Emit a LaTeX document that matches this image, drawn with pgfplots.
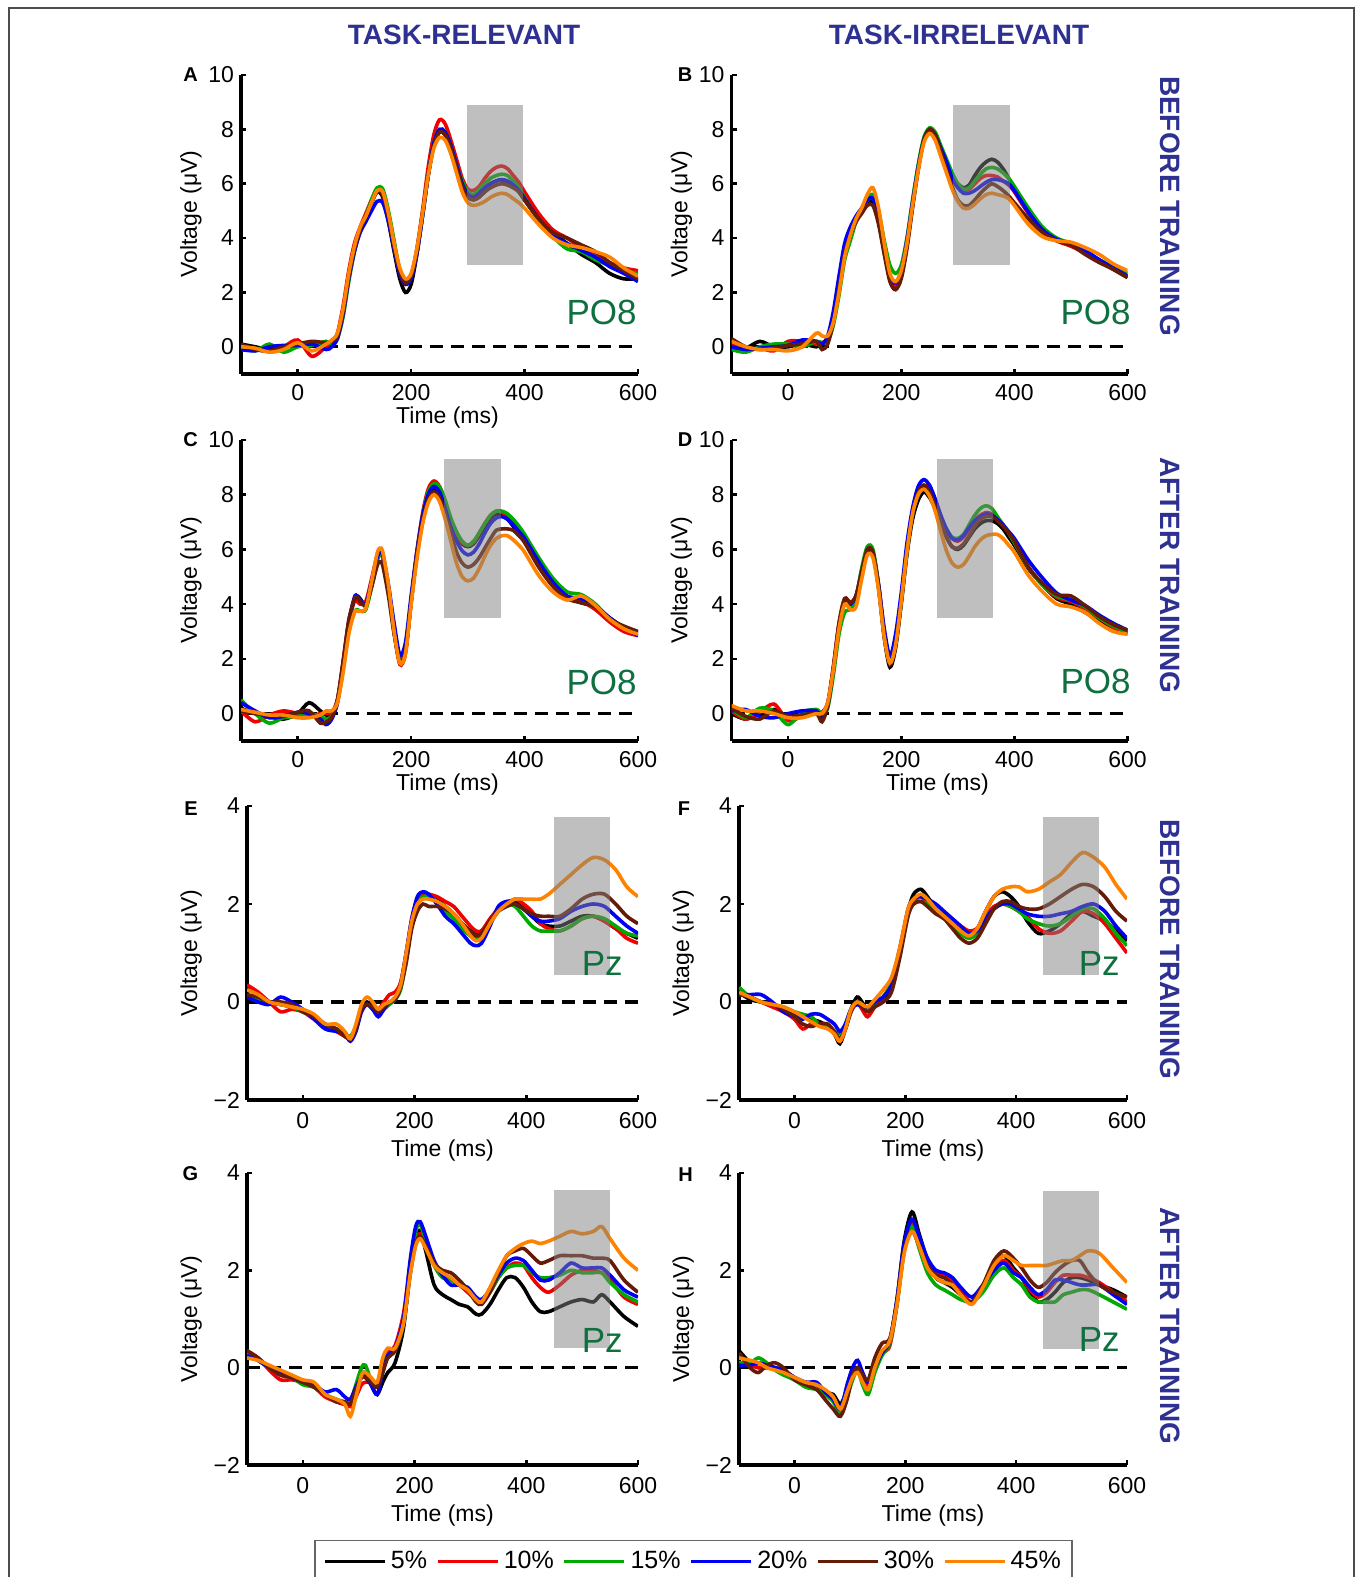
\documentclass[border=0pt]{standalone}
\usepackage{pgfplots}
\pgfplotsset{compat=1.18}
\usepackage{pgfplotstable}
\usepackage{fontspec}
\setmainfont{Liberation Sans}

\definecolor{cK}{RGB}{0,0,0}
\definecolor{cR}{RGB}{240,0,0}
\definecolor{cG}{RGB}{0,170,0}
\definecolor{cB}{RGB}{0,0,245}
\definecolor{cN}{RGB}{100,28,8}
\definecolor{cO}{RGB}{255,130,0}
\definecolor{ttl}{RGB}{46,49,146}
\definecolor{chg}{RGB}{14,112,62}

% columns: t, k=5%, r=10%, g=15%, b=20%, n=30%, o=45%
\pgfplotstableread{
t k r g b n o
-100 0.1 0.0 0.05 -0.1 0.1 0.0
-75 0.0 -0.1 -0.15 -0.15 -0.1 -0.05
-50 -0.1 -0.15 0.1 0.0 -0.15 -0.2
-25 0.0 0.0 -0.2 0.05 0.0 -0.1
0 0.05 0.25 0.0 0.05 0.1 0.15
25 0.1 -0.35 0.05 0.1 0.2 -0.15
50 0.0 0.0 0.2 -0.1 0.15 0.1
60 0.1 0.1 0.1 0.0 0.2 0.25
70 0.4 0.5 0.3 0.3 0.4 0.5
80 1.3 1.5 1.1 1.2 1.3 1.4
90 2.6 2.8 2.4 2.5 2.6 2.7
100 3.6 3.8 3.5 3.5 3.6 3.7
110 4.3 4.4 4.3 4.2 4.3 4.4
120 4.8 4.9 4.8 4.6 4.8 4.8
130 5.3 5.4 5.4 5.0 5.3 5.3
140 5.7 5.8 5.85 5.35 5.7 5.75
150 5.5 5.6 5.8 5.3 5.6 5.7
160 4.6 4.8 5.0 4.6 4.8 4.9
170 3.5 3.7 3.9 3.6 3.7 3.8
180 2.5 2.7 2.8 2.7 2.8 2.9
190 2.0 2.3 2.35 2.3 2.35 2.5
200 2.3 2.6 2.6 2.5 2.6 2.7
210 3.4 3.6 3.5 3.4 3.5 3.6
220 4.8 5.0 4.8 4.8 4.9 4.9
230 6.3 6.6 6.3 6.3 6.3 6.3
240 7.4 7.8 7.5 7.5 7.4 7.3
250 7.9 8.35 8.0 8.0 7.9 7.7
260 7.8 8.2 7.9 7.9 7.8 7.6
270 7.3 7.6 7.4 7.4 7.3 7.1
280 6.7 6.9 6.7 6.7 6.6 6.4
290 6.0 6.2 6.1 6.0 5.9 5.7
300 5.6 5.8 5.7 5.6 5.5 5.3
310 5.5 5.75 5.6 5.5 5.4 5.2
320 5.6 5.9 5.8 5.65 5.5 5.25
330 5.8 6.2 6.0 5.85 5.7 5.35
340 6.0 6.45 6.2 6.0 5.85 5.5
350 6.1 6.6 6.3 6.1 5.95 5.6
360 6.15 6.65 6.35 6.15 6.0 5.65
370 6.05 6.55 6.3 6.1 5.95 5.6
380 5.9 6.3 6.1 5.95 5.85 5.45
390 5.7 6.05 5.85 5.75 5.7 5.3
400 5.4 5.7 5.5 5.45 5.4 5.1
425 4.7 4.9 4.65 4.7 4.7 4.5
450 4.2 4.3 4.05 4.1 4.2 4.0
475 3.8 4.0 3.6 3.8 4.0 3.75
500 3.4 3.65 3.5 3.55 3.75 3.65
525 3.1 3.45 3.2 3.3 3.5 3.5
550 2.7 3.1 3.0 2.95 3.1 3.3
575 2.5 2.9 2.8 2.7 2.8 2.9
600 2.5 2.8 2.7 2.4 2.5 2.6
}\tA

\pgfplotstableread{
t k r g b n o
-100 0.0 0.1 -0.1 0.0 0.3 0.2
-75 -0.05 -0.1 -0.2 -0.1 0.0 0.0
-50 0.2 -0.05 0.0 -0.05 -0.1 -0.1
-25 0.0 -0.15 0.1 0.0 -0.05 -0.1
0 0.0 0.2 0.1 0.05 0.05 -0.15
25 0.1 0.2 0.0 0.25 0.1 0.0
50 0.0 0.1 0.2 0.2 0.2 0.5
60 0.1 0.15 0.15 0.1 -0.1 0.4
70 0.3 0.3 0.2 0.4 0.1 0.4
80 1.0 1.0 0.8 1.3 0.9 0.9
90 2.2 2.2 1.9 2.6 2.1 2.0
100 3.5 3.4 3.2 3.8 3.4 3.3
110 4.2 4.1 3.9 4.4 4.1 4.1
120 4.7 4.6 4.6 4.8 4.6 4.7
130 5.0 5.0 5.0 5.1 4.9 5.1
140 5.3 5.4 5.4 5.4 5.2 5.6
150 5.3 5.5 5.6 5.45 5.2 5.85
160 4.6 4.8 5.0 4.8 4.5 5.1
170 3.5 3.6 3.9 3.6 3.4 3.8
180 2.5 2.6 3.0 2.6 2.4 2.7
190 2.2 2.25 2.7 2.35 2.1 2.4
200 2.6 2.7 3.0 2.8 2.5 2.8
210 3.7 3.8 4.0 3.9 3.6 3.8
220 5.2 5.3 5.4 5.3 5.1 5.2
230 6.6 6.6 6.7 6.6 6.5 6.5
240 7.6 7.6 7.7 7.6 7.6 7.5
250 8.0 8.0 8.05 8.0 8.0 7.85
260 7.8 7.8 7.9 7.8 7.8 7.6
270 7.3 7.3 7.4 7.3 7.2 7.0
280 6.8 6.8 6.9 6.8 6.5 6.4
290 6.3 6.3 6.4 6.2 5.9 5.8
300 6.0 5.9 6.0 5.85 5.4 5.35
310 5.85 5.75 5.8 5.65 5.2 5.1
320 5.95 5.8 5.85 5.65 5.2 5.1
330 6.3 6.0 6.1 5.75 5.4 5.25
340 6.6 6.2 6.35 5.9 5.65 5.45
350 6.8 6.3 6.55 6.05 5.85 5.6
360 6.9 6.3 6.6 6.15 6.0 5.65
370 6.8 6.25 6.55 6.15 5.9 5.6
380 6.55 6.1 6.4 6.1 5.75 5.55
390 6.2 5.95 6.2 6.0 5.55 5.45
400 5.85 5.7 5.9 5.75 5.3 5.2
425 5.0 4.9 5.1 4.95 4.7 4.5
450 4.3 4.3 4.4 4.3 4.2 4.05
475 3.95 3.9 4.0 3.95 3.9 3.9
500 3.8 3.7 3.8 3.8 3.75 3.85
525 3.5 3.45 3.5 3.55 3.4 3.65
550 3.2 3.15 3.2 3.2 3.1 3.4
575 2.85 2.85 2.95 2.9 2.85 3.05
600 2.55 2.6 2.7 2.6 2.55 2.8
}\tB

\pgfplotstableread{
t k r g b n o
-100 0.2 0.1 0.5 0.4 0.1 0.15
-75 0.0 -0.3 0.0 0.1 0.0 0.05
-50 -0.1 -0.05 -0.35 -0.15 -0.05 -0.05
-25 -0.2 0.1 -0.15 -0.1 -0.1 -0.05
0 0.0 0.0 -0.1 0.05 0.05 -0.15
20 0.4 -0.1 0.0 0.0 0.1 -0.15
40 0.1 0.0 -0.1 -0.2 -0.35 -0.05
50 -0.05 0.0 -0.2 -0.4 -0.3 0.1
60 0.0 0.05 -0.1 -0.2 -0.15 0.1
70 0.5 0.5 0.4 0.4 0.5 0.4
80 1.8 1.9 1.6 1.8 1.9 1.5
90 3.3 3.4 3.0 3.3 3.4 2.9
100 4.2 4.1 3.7 4.25 4.2 3.7
105 4.3 4.1 3.8 4.3 4.25 3.75
110 4.2 4.0 3.75 4.15 4.1 3.75
120 4.0 4.1 3.8 4.0 3.95 3.85
130 4.7 4.9 4.6 4.8 4.6 4.8
140 5.6 5.8 5.6 5.7 5.4 5.85
145 5.85 6.0 5.85 5.9 5.55 6.05
150 5.7 5.85 5.7 5.8 5.4 5.9
160 4.5 4.6 4.5 4.7 4.3 4.7
170 3.0 3.0 3.0 3.3 2.9 3.0
180 1.95 1.8 1.9 2.15 1.9 1.85
190 2.3 2.2 2.3 2.6 2.3 2.2
200 4.1 4.1 4.1 4.3 4.1 4.0
210 5.8 5.9 5.8 5.9 5.8 5.6
220 7.1 7.3 7.2 7.2 7.0 6.9
230 7.9 8.2 8.1 8.0 7.8 7.7
240 8.2 8.5 8.4 8.3 8.1 8.0
250 8.0 8.3 8.3 8.1 7.9 7.75
260 7.5 7.7 7.8 7.5 7.3 7.1
270 6.95 7.05 7.15 6.8 6.6 6.3
280 6.5 6.6 6.65 6.3 5.9 5.5
290 6.2 6.25 6.3 5.95 5.5 5.0
300 6.1 6.15 6.15 5.8 5.35 4.85
310 6.2 6.25 6.3 5.9 5.45 4.95
320 6.5 6.6 6.6 6.2 5.7 5.3
330 6.85 6.95 6.95 6.6 6.05 5.75
340 7.15 7.25 7.25 6.95 6.4 6.15
350 7.3 7.4 7.4 7.15 6.7 6.4
360 7.25 7.35 7.4 7.2 6.75 6.5
370 7.1 7.2 7.3 7.1 6.75 6.5
380 6.85 6.95 7.1 6.9 6.7 6.35
390 6.6 6.7 6.85 6.65 6.5 6.15
400 6.3 6.4 6.55 6.4 6.25 5.9
425 5.4 5.5 5.7 5.55 5.35 5.05
450 4.7 4.75 4.95 4.8 4.65 4.45
475 4.25 4.25 4.45 4.3 4.2 4.15
500 4.05 4.1 4.35 4.2 4.05 4.3
525 3.9 3.8 4.0 3.95 3.9 3.95
550 3.5 3.35 3.45 3.5 3.45 3.45
575 3.15 3.0 3.15 3.15 3.2 3.1
600 2.95 2.85 3.0 2.85 3.0 2.9
}\tC

\pgfplotstableread{
t k r g b n o
-100 0.0 0.1 0.2 0.1 0.2 0.3
-75 -0.2 -0.2 -0.15 0.15 -0.1 0.1
-50 0.0 0.05 0.2 -0.1 -0.2 0.1
-25 0.15 0.35 0.1 -0.15 0.1 0.0
0 -0.1 -0.25 -0.4 0.0 -0.1 -0.15
25 0.1 -0.1 0.05 0.1 -0.05 -0.15
50 0.0 0.0 0.15 0.1 0.0 0.0
60 -0.1 0.05 0.0 -0.15 -0.3 0.0
70 0.3 0.4 0.2 0.3 0.3 0.4
80 1.6 1.7 1.4 1.6 1.7 1.6
90 3.2 3.3 2.9 3.2 3.3 3.1
100 4.15 4.2 3.7 4.1 4.2 4.0
110 4.05 4.05 3.8 4.0 4.05 3.8
120 4.2 4.3 4.2 4.3 4.3 3.9
130 5.1 5.2 5.3 5.1 5.2 4.9
140 5.95 6.0 6.1 5.9 6.0 5.8
150 5.8 5.9 6.0 5.8 5.9 5.7
160 4.6 4.7 4.7 4.7 4.6 4.5
170 2.8 3.0 2.9 3.1 2.8 2.8
180 1.7 1.95 1.95 2.1 1.8 1.85
190 2.4 2.7 2.6 2.9 2.5 2.5
200 4.0 4.2 4.1 4.4 4.1 4.1
210 5.8 6.0 5.9 6.2 5.9 5.9
220 7.1 7.4 7.3 7.5 7.3 7.3
230 7.8 8.1 8.0 8.3 8.1 8.0
240 8.1 8.35 8.3 8.55 8.35 8.2
250 7.9 8.2 8.15 8.35 8.1 7.95
260 7.5 7.75 7.7 7.85 7.6 7.4
270 6.95 7.15 7.15 7.25 7.0 6.65
280 6.45 6.7 6.75 6.75 6.45 5.95
290 6.1 6.4 6.45 6.4 6.1 5.5
300 6.0 6.3 6.4 6.35 6.05 5.35
310 6.15 6.45 6.55 6.5 6.2 5.45
320 6.45 6.75 6.9 6.8 6.5 5.75
330 6.75 7.05 7.25 7.05 6.85 6.1
340 6.95 7.25 7.5 7.2 7.1 6.35
350 7.05 7.35 7.6 7.3 7.2 6.5
360 7.05 7.3 7.5 7.25 7.2 6.55
370 6.95 7.15 7.2 7.1 7.05 6.55
380 6.75 6.9 6.9 6.9 6.85 6.4
390 6.45 6.6 6.6 6.65 6.6 6.15
400 6.15 6.25 6.25 6.4 6.3 5.9
425 5.3 5.35 5.35 5.6 5.35 5.05
450 4.7 4.7 4.7 4.95 4.75 4.45
475 4.2 4.25 4.3 4.4 4.35 4.0
500 4.0 4.1 4.15 4.15 4.3 3.9
525 3.7 3.85 3.9 3.95 3.95 3.7
550 3.4 3.5 3.5 3.6 3.55 3.3
575 3.15 3.15 3.2 3.3 3.25 3.0
600 2.95 2.9 3.0 3.05 3.05 2.9
}\tD

\pgfplotstableread{
t k r g b n o
-100 0.3 0.35 0.1 0.1 0.15 0.25
-80 0.15 0.2 0.05 0.0 0.1 0.15
-60 0.0 0.0 0.0 -0.05 0.0 0.0
-40 -0.05 -0.2 -0.05 0.1 0.0 -0.05
-20 -0.1 -0.15 -0.1 0.0 -0.05 -0.1
0 -0.2 -0.2 -0.2 -0.15 -0.2 -0.15
20 -0.3 -0.35 -0.3 -0.35 -0.3 -0.25
40 -0.5 -0.45 -0.45 -0.55 -0.45 -0.45
60 -0.55 -0.6 -0.55 -0.6 -0.55 -0.45
75 -0.65 -0.7 -0.65 -0.65 -0.7 -0.6
85 -0.75 -0.75 -0.7 -0.8 -0.75 -0.75
95 -0.5 -0.55 -0.5 -0.6 -0.55 -0.45
105 -0.1 -0.15 -0.15 -0.2 -0.15 -0.05
115 0.0 -0.05 -0.05 -0.05 -0.05 0.1
125 -0.1 -0.1 -0.15 -0.15 -0.1 0.0
135 -0.2 -0.15 -0.25 -0.3 -0.2 -0.15
145 -0.1 0.0 -0.15 -0.15 -0.1 -0.05
155 0.0 0.15 -0.05 0.0 0.0 0.0
165 0.05 0.2 0.05 0.05 0.05 0.1
175 0.3 0.4 0.25 0.35 0.3 0.35
185 0.9 1.0 0.85 1.0 0.8 1.0
195 1.6 1.7 1.6 1.7 1.5 1.65
205 2.05 2.1 2.0 2.15 1.85 2.0
215 2.2 2.2 2.15 2.25 2.0 2.1
225 2.2 2.2 2.15 2.2 1.95 2.1
240 2.1 2.15 2.05 2.0 1.95 2.05
255 1.95 2.05 1.85 1.75 1.9 1.95
270 1.8 1.95 1.7 1.6 1.8 1.8
285 1.6 1.75 1.5 1.4 1.6 1.6
300 1.45 1.55 1.35 1.2 1.45 1.35
310 1.4 1.45 1.3 1.15 1.35 1.25
320 1.45 1.45 1.35 1.2 1.4 1.3
335 1.65 1.7 1.6 1.55 1.65 1.6
350 1.9 1.9 1.85 1.95 1.85 1.85
365 2.05 2.0 2.0 2.05 1.95 2.0
380 2.05 2.1 1.95 2.0 2.0 2.1
395 1.9 2.0 1.75 1.9 1.9 2.1
410 1.75 1.85 1.55 1.75 1.8 2.1
425 1.6 1.6 1.45 1.65 1.75 2.1
440 1.55 1.5 1.45 1.65 1.75 2.2
460 1.55 1.45 1.45 1.7 1.75 2.4
480 1.65 1.55 1.55 1.85 1.9 2.6
500 1.75 1.7 1.7 1.95 2.1 2.8
520 1.75 1.75 1.75 2.0 2.2 2.95
540 1.65 1.65 1.7 1.95 2.2 2.9
560 1.5 1.5 1.55 1.75 2.0 2.7
580 1.4 1.3 1.4 1.55 1.75 2.35
600 1.3 1.2 1.35 1.4 1.6 2.15
}\tE

\pgfplotstableread{
t k r g b n o
-100 0.2 0.2 0.3 0.15 0.15 0.2
-80 0.05 0.1 0.1 0.15 0.1 0.1
-60 0.0 0.0 0.0 0.15 0.0 0.0
-40 -0.05 -0.1 -0.05 0.0 -0.05 -0.05
-20 -0.15 -0.2 -0.1 -0.2 -0.15 -0.1
0 -0.25 -0.35 -0.2 -0.3 -0.3 -0.2
15 -0.3 -0.55 -0.25 -0.35 -0.45 -0.3
30 -0.35 -0.45 -0.3 -0.25 -0.5 -0.4
45 -0.4 -0.45 -0.45 -0.25 -0.45 -0.5
60 -0.5 -0.5 -0.5 -0.35 -0.45 -0.55
72 -0.65 -0.65 -0.6 -0.45 -0.6 -0.65
82 -0.85 -0.8 -0.65 -0.6 -0.75 -0.8
92 -0.55 -0.55 -0.45 -0.45 -0.55 -0.55
102 -0.15 -0.2 -0.15 -0.15 -0.2 -0.15
113 0.1 0.0 0.0 -0.05 0.0 0.0
122 0.0 -0.15 -0.05 -0.1 -0.1 -0.05
132 -0.15 -0.3 -0.15 -0.1 -0.2 -0.1
145 -0.05 -0.1 0.0 0.0 -0.1 0.05
160 0.05 0.1 0.1 0.1 0.0 0.25
175 0.35 0.4 0.4 0.35 0.2 0.5
190 1.0 1.1 1.05 1.05 0.9 1.1
205 1.85 1.9 1.8 1.85 1.75 1.9
215 2.2 2.1 2.05 2.1 2.0 2.1
228 2.3 2.15 2.05 2.15 2.05 2.2
240 2.15 2.0 2.0 2.1 1.95 2.1
255 1.9 1.85 1.9 2.0 1.8 1.9
270 1.75 1.7 1.75 1.85 1.7 1.75
285 1.6 1.65 1.6 1.7 1.5 1.6
300 1.45 1.55 1.4 1.55 1.3 1.45
315 1.35 1.45 1.3 1.4 1.2 1.35
330 1.5 1.5 1.4 1.45 1.3 1.5
345 1.85 1.75 1.7 1.7 1.6 1.85
360 2.15 1.95 1.9 1.9 1.9 2.15
375 2.25 2.0 2.0 2.0 2.05 2.3
390 2.15 1.95 1.95 2.0 2.05 2.35
405 1.95 1.85 1.85 1.9 1.95 2.35
420 1.65 1.75 1.7 1.8 1.9 2.25
440 1.4 1.5 1.6 1.75 1.9 2.3
460 1.45 1.4 1.55 1.75 2.0 2.45
480 1.6 1.45 1.6 1.8 2.15 2.6
500 1.8 1.65 1.75 1.85 2.3 2.85
520 1.85 1.85 1.9 1.95 2.4 3.05
540 1.75 1.8 1.9 2.0 2.35 2.95
560 1.65 1.6 1.7 1.85 2.15 2.75
580 1.45 1.3 1.4 1.55 1.85 2.4
600 1.25 1.0 1.15 1.3 1.65 2.1
}\tF

\pgfplotstableread{
t k r g b n o
-100 0.3 0.35 0.3 0.25 0.35 0.2
-80 0.15 0.2 0.15 0.15 0.2 0.15
-60 0.0 -0.05 0.0 0.0 0.0 0.05
-40 -0.15 -0.25 -0.15 -0.1 -0.15 -0.05
-20 -0.2 -0.25 -0.2 -0.2 -0.2 -0.15
0 -0.3 -0.3 -0.35 -0.3 -0.3 -0.25
20 -0.35 -0.4 -0.4 -0.35 -0.4 -0.3
40 -0.55 -0.6 -0.55 -0.5 -0.55 -0.55
60 -0.7 -0.7 -0.65 -0.45 -0.7 -0.65
75 -0.75 -0.75 -0.7 -0.6 -0.7 -0.75
85 -0.75 -0.8 -0.7 -0.65 -0.75 -1.0
95 -0.45 -0.6 -0.35 -0.4 -0.45 -0.6
105 -0.15 -0.35 0.0 -0.2 -0.2 -0.15
112 -0.1 -0.3 0.05 -0.2 -0.2 -0.1
122 -0.35 -0.3 -0.25 -0.35 -0.3 -0.2
133 -0.55 -0.35 -0.35 -0.55 -0.4 -0.3
143 -0.3 0.1 0.0 -0.1 -0.1 0.2
152 -0.1 0.35 0.25 0.25 0.2 0.4
165 0.1 0.45 0.35 0.4 0.35 0.4
180 0.8 1.1 0.9 1.0 0.9 0.9
192 2.0 2.1 2.0 2.2 1.9 1.9
202 2.7 2.65 2.8 2.9 2.55 2.5
210 2.8 2.75 2.95 3.0 2.7 2.65
220 2.4 2.55 2.6 2.7 2.5 2.45
235 1.7 2.15 2.1 2.2 2.15 2.1
250 1.5 1.95 1.85 1.9 2.0 1.95
265 1.4 1.8 1.8 1.7 1.95 1.85
280 1.3 1.7 1.7 1.7 1.8 1.7
295 1.25 1.55 1.6 1.65 1.6 1.6
310 1.1 1.4 1.4 1.45 1.35 1.4
320 1.1 1.35 1.4 1.4 1.3 1.35
335 1.3 1.55 1.55 1.6 1.55 1.65
350 1.6 1.85 1.85 1.9 1.95 2.0
365 1.85 2.05 2.05 2.15 2.3 2.3
380 1.85 2.15 2.1 2.25 2.4 2.45
395 1.65 2.1 2.1 2.2 2.45 2.55
410 1.35 1.85 1.95 2.0 2.3 2.6
425 1.15 1.65 1.85 1.8 2.15 2.55
440 1.15 1.55 1.85 1.8 2.2 2.6
460 1.25 1.7 1.9 1.95 2.3 2.7
480 1.35 1.9 2.0 2.15 2.3 2.8
500 1.4 2.0 1.95 2.05 2.3 2.75
520 1.35 2.0 1.95 2.05 2.25 2.8
535 1.5 1.95 1.95 2.05 2.25 2.9
550 1.35 1.8 1.75 1.9 2.2 2.65
575 1.05 1.45 1.5 1.6 1.8 2.25
600 0.85 1.3 1.35 1.45 1.55 2.0
}\tG

\pgfplotstableread{
t k r g b n o
-100 0.35 0.1 0.1 0.05 0.3 0.2
-80 0.1 0.05 0.1 0.05 0.0 0.15
-65 0.0 0.0 0.2 0.1 -0.1 0.1
-50 0.0 0.05 0.1 0.05 0.05 0.0
-35 0.0 0.0 -0.05 0.0 0.1 -0.05
-20 -0.05 -0.1 -0.15 -0.05 0.0 -0.1
0 -0.2 -0.25 -0.25 -0.2 -0.25 -0.2
20 -0.3 -0.3 -0.4 -0.3 -0.35 -0.3
40 -0.35 -0.35 -0.45 -0.3 -0.45 -0.35
55 -0.5 -0.5 -0.55 -0.5 -0.65 -0.45
70 -0.55 -0.65 -0.7 -0.65 -0.85 -0.6
83 -0.75 -0.9 -0.95 -0.85 -1.0 -0.85
95 -0.45 -0.55 -0.6 -0.35 -0.65 -0.5
105 -0.1 -0.15 -0.25 0.0 -0.15 -0.2
114 0.0 -0.05 -0.05 0.15 0.0 -0.1
123 -0.15 -0.25 -0.35 -0.1 -0.15 -0.3
133 -0.3 -0.35 -0.55 -0.3 -0.25 -0.45
145 0.0 0.0 -0.1 0.0 0.2 0.0
158 0.3 0.3 0.25 0.3 0.5 0.35
172 0.55 0.45 0.5 0.55 0.6 0.55
185 1.4 1.3 1.3 1.4 1.35 1.3
198 2.6 2.5 2.4 2.55 2.4 2.35
212 3.2 2.95 2.9 3.05 2.8 2.8
225 2.75 2.65 2.45 2.7 2.5 2.5
240 2.2 2.2 1.95 2.25 2.1 2.05
255 1.85 1.95 1.7 2.0 1.9 1.85
270 1.75 1.9 1.6 1.95 1.85 1.75
285 1.65 1.75 1.5 1.85 1.7 1.7
300 1.5 1.55 1.4 1.65 1.5 1.5
320 1.35 1.35 1.35 1.45 1.35 1.3
340 1.65 1.65 1.55 1.7 1.7 1.65
360 2.1 2.05 1.9 2.0 2.2 2.1
378 2.3 2.2 2.05 2.15 2.4 2.3
395 2.05 2.0 1.85 1.95 2.25 2.2
410 1.85 1.85 1.7 1.85 2.05 2.1
425 1.55 1.6 1.45 1.65 1.8 2.1
440 1.35 1.45 1.35 1.5 1.65 2.1
455 1.4 1.55 1.35 1.6 1.75 2.1
470 1.55 1.75 1.35 1.8 1.95 2.15
485 1.75 1.9 1.5 1.8 2.1 2.2
500 1.85 1.9 1.55 1.75 2.2 2.2
515 1.85 1.9 1.6 1.7 2.2 2.3
530 1.8 1.85 1.6 1.7 1.95 2.4
550 1.7 1.75 1.5 1.7 1.7 2.35
575 1.6 1.55 1.35 1.5 1.55 2.05
600 1.45 1.35 1.2 1.3 1.45 1.75
}\tH

\newcommand{\fsz}{\fontsize{11.5}{13.5}\selectfont}

\tikzset{
  dzero/.style={black, line width=1.6pt, dash pattern=on 6.5pt off 4pt},
  win/.style={fill=black!50, opacity=0.5},
}

\pgfplotsset{
  eeg/.style={scale only axis, anchor=south west,
    axis x line=bottom, axis y line=left,
    axis line style={line width=1.6pt,-,black},
    xmin=-100, xmax=600, xtick={0,200,400,600}, xticklabels={0,200,400,600},
    tick align=inside, major tick length=2.6pt, tick style={line width=1.3pt,black},
    ticklabel style={font=\fsz}, label style={font=\fsz},
    xlabel={Time (ms)}, ylabel={Voltage (μV)},
    clip mode=individual,
    every axis plot/.append style={line width=1.8pt, smooth, mark=none}},
  po8/.style={ymin=-1, ymax=10, ytick={0,2,4,6,8,10}, yticklabels={0,2,4,6,8,10},
    ylabel style={at={(ticklabel cs:0.535,-3.5pt)}},
    xticklabel style={yshift=-1.5pt},
    xlabel style={xshift=4pt, yshift=3.75pt}},
  pz/.style={ymin=-2, ymax=4, ytick={-2,0,2,4}, yticklabels={−2,0,2,4},
    ylabel style={at={(ticklabel cs:0.5,-1pt)}},
    xticklabel style={yshift=-2.75pt},
    xlabel style={yshift=1.5pt}},
}

\newcommand{\curves}[1]{%
  \addplot[cK] table[x=t,y=k]{#1};
  \addplot[cR] table[x=t,y=r]{#1};
  \addplot[cG] table[x=t,y=g]{#1};
  \addplot[cB] table[x=t,y=b]{#1};
  \addplot[cN] table[x=t,y=n]{#1};
  \addplot[cO] table[x=t,y=o]{#1};
}

\begin{document}
\begin{tikzpicture}
\useasboundingbox (0,0) rectangle (679.5pt,788.5pt);

% outer frame
\draw[black!70, line width=1pt] (4.35pt,-10pt) -- (4.35pt,784.6pt) -- (677pt,784.6pt) -- (677pt,-10pt);

% column titles
\node[anchor=base, text=ttl, font=\bfseries\fontsize{14}{16}\selectfont] at (232pt,766pt) {TASK-RELEVANT};
\node[anchor=base, text=ttl, font=\bfseries\fontsize{14}{16}\selectfont] at (479.5pt,766pt) {TASK-IRRELEVANT};

% row labels
\foreach \yy/\txt in {685.5/BEFORE TRAINING, 500.75/AFTER TRAINING, 313.75/BEFORE TRAINING, 125.5/AFTER TRAINING}
  \node[rotate=-90, anchor=center, text=ttl, font=\bfseries\fontsize{14}{16}\selectfont] at (585pt,\yy pt) {\txt};

% A
\begin{axis}[eeg, po8, at={(120.5pt,601.5pt)}, width=198.5pt, height=149.5pt]
\draw[dzero] (axis cs:-100,0) -- (axis cs:600,0);
\curves{\tA}
\fill[win] (axis cs:298,3.0) rectangle (axis cs:398,8.88);
\end{axis}
% B
\begin{axis}[eeg, po8, xlabel={}, at={(365.75pt,601.5pt)}, width=198pt, height=149.5pt]
\draw[dzero] (axis cs:-100,0) -- (axis cs:600,0);
\curves{\tB}
\fill[win] (axis cs:291,3.0) rectangle (axis cs:392,8.88);
\end{axis}
% C
\begin{axis}[eeg, po8, at={(120.5pt,418pt)}, width=198.5pt, height=150.5pt]
\draw[dzero] (axis cs:-100,0) -- (axis cs:600,0);
\curves{\tC}
\fill[win] (axis cs:258,3.5) rectangle (axis cs:359,9.3);
\end{axis}
% D
\begin{axis}[eeg, po8, at={(365.75pt,418pt)}, width=198pt, height=150.5pt]
\draw[dzero] (axis cs:-100,0) -- (axis cs:600,0);
\curves{\tD}
\fill[win] (axis cs:263,3.5) rectangle (axis cs:362,9.3);
\end{axis}
% E
\begin{axis}[eeg, pz, at={(123.5pt,238.5pt)}, width=195.5pt, height=147pt]
\draw[dzero] (axis cs:-100,0) -- (axis cs:600,0);
\curves{\tE}
\fill[win] (axis cs:450,0.55) rectangle (axis cs:550,3.78);
\end{axis}
% F
\begin{axis}[eeg, pz, at={(369.5pt,238.5pt)}, width=194pt, height=147pt]
\draw[dzero] (axis cs:-100,0) -- (axis cs:600,0);
\curves{\tF}
\fill[win] (axis cs:449,0.55) rectangle (axis cs:550,3.78);
\end{axis}
% G
\begin{axis}[eeg, pz, at={(123.5pt,56pt)}, width=195.5pt, height=146pt]
\draw[dzero] (axis cs:-100,0) -- (axis cs:600,0);
\curves{\tG}
\fill[win] (axis cs:450,0.40) rectangle (axis cs:550,3.66);
\end{axis}
% H
\begin{axis}[eeg, pz, at={(369.5pt,56pt)}, width=194pt, height=146pt]
\draw[dzero] (axis cs:-100,0) -- (axis cs:600,0);
\curves{\tH}
\fill[win] (axis cs:449,0.38) rectangle (axis cs:550,3.63);
\end{axis}

% electrode labels
\foreach \xx/\yy in {318.5/626, 565.5/626.25, 318.5/441, 565.5/441.5}
  \node[anchor=base east, inner sep=0pt, text=chg, font=\fontsize{17.5}{19}\selectfont] at (\xx pt,\yy pt) {PO8};
\foreach \xx/\yy in {311.5/300.5, 560/300.5, 311.5/112, 560/112.5}
  \node[anchor=base east, inner sep=0pt, text=chg, font=\fontsize{17.5}{19}\selectfont] at (\xx pt,\yy pt) {Pz};

% panel letters
\foreach \xx/\yy/\ll in {95.25/751/A, 342.5/751/B, 95.25/568.5/C, 342.5/568.5/D, 95.5/384/E, 342/384/F, 95.25/201.5/G, 342.75/201/H}
  \node[anchor=center, font=\bfseries\fontsize{10}{11}\selectfont] at (\xx pt,\yy pt) {\ll};

% legend
\begin{axis}[hide axis, scale only axis, width=10pt, height=10pt,
  at={(346.75pt,7.65pt)}, anchor=center, xmin=0, xmax=1, ymin=0, ymax=1,
  legend columns=6,
  legend style={at={(0.5,0.5)}, anchor=center, draw=black!60, line width=0.8pt,
    inner xsep=4pt, inner ysep=4pt, font=\fontsize{12.5}{14}\selectfont,
    nodes={inner sep=1.5pt},
    column sep=0.75pt, /tikz/every even column/.append style={column sep=3pt}},
  legend image code/.code={\draw[#1, line width=1.6pt] (0pt,0pt) -- (30pt,0pt);}]
\addlegendimage{cK}\addlegendentry{5\%}
\addlegendimage{cR}\addlegendentry{10\%}
\addlegendimage{cG}\addlegendentry{15\%}
\addlegendimage{cB}\addlegendentry{20\%}
\addlegendimage{cN}\addlegendentry{30\%}
\addlegendimage{cO}\addlegendentry{45\%}
\end{axis}
\end{tikzpicture}
\end{document}
